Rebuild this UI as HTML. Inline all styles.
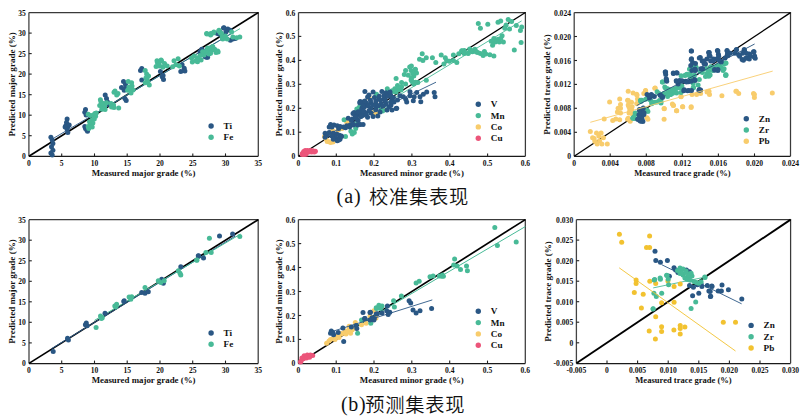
<!DOCTYPE html>
<html><head><meta charset="utf-8"><style>
html,body{margin:0;padding:0;background:#fff;}
body{width:803px;height:420px;overflow:hidden;position:relative;}
svg{position:absolute;left:0;top:0;}
.tk{font-family:'Liberation Serif', 'Times New Roman', serif;font-weight:bold;font-size:7.6px;fill:#111;}
.ax{font-family:'Liberation Serif', 'Times New Roman', serif;font-weight:bold;font-size:8.9px;fill:#111;}
.lg{font-family:'Liberation Serif', 'Times New Roman', serif;font-weight:bold;font-size:9.2px;fill:#111;}
.cap{position:absolute;font-size:20px;line-height:20px;white-space:nowrap;color:#111;}
.cap .l{font-family:'Liberation Serif','Times New Roman',serif;}
.cap .c{font-family:'Liberation Sans','Noto Sans CJK SC',sans-serif;font-weight:350;font-size:19.3px;letter-spacing:0.7px;}
</style></head><body>
<svg width="803" height="420" viewBox="0 0 803 420">
<path d="M28.9 12.6H258.3V156.2" fill="none" stroke="#3a3a3a" stroke-width="1.25"/>
<path d="M28.9 12.6V156.2" fill="none" stroke="#444" stroke-width="1.3"/>
<path d="M28.9 156.4H258.3" fill="none" stroke="#1a1a1a" stroke-width="1.25"/>
<text x="28.9" y="165.9" text-anchor="middle" class="tk">0</text>
<text x="25.8" y="159.2" text-anchor="end" class="tk">0</text>
<path d="M61.7 156.2v-2.8" stroke="#222" stroke-width="1.1"/>
<path d="M28.9 135.7h2.8" stroke="#222" stroke-width="1.1"/>
<text x="61.7" y="165.9" text-anchor="middle" class="tk">5</text>
<text x="25.8" y="138.7" text-anchor="end" class="tk">5</text>
<path d="M94.5 156.2v-2.8" stroke="#222" stroke-width="1.1"/>
<path d="M28.9 115.2h2.8" stroke="#222" stroke-width="1.1"/>
<text x="94.5" y="165.9" text-anchor="middle" class="tk">10</text>
<text x="25.8" y="118.2" text-anchor="end" class="tk">10</text>
<path d="M127.2 156.2v-2.8" stroke="#222" stroke-width="1.1"/>
<path d="M28.9 94.7h2.8" stroke="#222" stroke-width="1.1"/>
<text x="127.2" y="165.9" text-anchor="middle" class="tk">15</text>
<text x="25.8" y="97.7" text-anchor="end" class="tk">15</text>
<path d="M160.0 156.2v-2.8" stroke="#222" stroke-width="1.1"/>
<path d="M28.9 74.1h2.8" stroke="#222" stroke-width="1.1"/>
<text x="160.0" y="165.9" text-anchor="middle" class="tk">20</text>
<text x="25.8" y="77.1" text-anchor="end" class="tk">20</text>
<path d="M192.8 156.2v-2.8" stroke="#222" stroke-width="1.1"/>
<path d="M28.9 53.6h2.8" stroke="#222" stroke-width="1.1"/>
<text x="192.8" y="165.9" text-anchor="middle" class="tk">25</text>
<text x="25.8" y="56.6" text-anchor="end" class="tk">25</text>
<path d="M225.5 156.2v-2.8" stroke="#222" stroke-width="1.1"/>
<path d="M28.9 33.1h2.8" stroke="#222" stroke-width="1.1"/>
<text x="225.5" y="165.9" text-anchor="middle" class="tk">30</text>
<text x="25.8" y="36.1" text-anchor="end" class="tk">30</text>
<text x="258.3" y="165.9" text-anchor="middle" class="tk">35</text>
<text x="25.8" y="15.6" text-anchor="end" class="tk">35</text>
<text x="143.6" y="176.2" text-anchor="middle" class="ax" style="font-size:8.9px">Measured major grade (%)</text>
<text transform="translate(14.5 84.4) rotate(-90)" text-anchor="middle" class="ax" style="font-size:9.05px">Predicted major grade (%)</text>
<path d="M298.5 12.5H525.4V156.2" fill="none" stroke="#3a3a3a" stroke-width="1.25"/>
<path d="M298.5 12.5V156.2" fill="none" stroke="#444" stroke-width="1.3"/>
<path d="M298.5 156.4H525.4" fill="none" stroke="#1a1a1a" stroke-width="1.25"/>
<text x="298.5" y="165.9" text-anchor="middle" class="tk">0</text>
<text x="295.3" y="159.2" text-anchor="end" class="tk">0</text>
<path d="M336.3 156.2v-2.8" stroke="#222" stroke-width="1.1"/>
<path d="M298.5 132.2h2.8" stroke="#222" stroke-width="1.1"/>
<text x="336.3" y="165.9" text-anchor="middle" class="tk">0.1</text>
<text x="295.3" y="135.2" text-anchor="end" class="tk">0.1</text>
<path d="M374.1 156.2v-2.8" stroke="#222" stroke-width="1.1"/>
<path d="M298.5 108.3h2.8" stroke="#222" stroke-width="1.1"/>
<text x="374.1" y="165.9" text-anchor="middle" class="tk">0.2</text>
<text x="295.3" y="111.3" text-anchor="end" class="tk">0.2</text>
<path d="M411.9 156.2v-2.8" stroke="#222" stroke-width="1.1"/>
<path d="M298.5 84.3h2.8" stroke="#222" stroke-width="1.1"/>
<text x="411.9" y="165.9" text-anchor="middle" class="tk">0.3</text>
<text x="295.3" y="87.3" text-anchor="end" class="tk">0.3</text>
<path d="M449.8 156.2v-2.8" stroke="#222" stroke-width="1.1"/>
<path d="M298.5 60.4h2.8" stroke="#222" stroke-width="1.1"/>
<text x="449.8" y="165.9" text-anchor="middle" class="tk">0.4</text>
<text x="295.3" y="63.4" text-anchor="end" class="tk">0.4</text>
<path d="M487.6 156.2v-2.8" stroke="#222" stroke-width="1.1"/>
<path d="M298.5 36.4h2.8" stroke="#222" stroke-width="1.1"/>
<text x="487.6" y="165.9" text-anchor="middle" class="tk">0.5</text>
<text x="295.3" y="39.4" text-anchor="end" class="tk">0.5</text>
<text x="525.4" y="165.9" text-anchor="middle" class="tk">0.6</text>
<text x="295.3" y="15.5" text-anchor="end" class="tk">0.6</text>
<text x="411.9" y="176.2" text-anchor="middle" class="ax" style="font-size:8.9px">Measured minor grade (%)</text>
<text transform="translate(281.6 84.3) rotate(-90)" text-anchor="middle" class="ax" style="font-size:9.05px">Predicted minor grade (%)</text>
<path d="M574.2 12.6H790.5V156.2" fill="none" stroke="#3a3a3a" stroke-width="1.25"/>
<path d="M574.2 12.6V156.2" fill="none" stroke="#444" stroke-width="1.3"/>
<path d="M574.2 156.4H790.5" fill="none" stroke="#1a1a1a" stroke-width="1.25"/>
<text x="574.2" y="165.9" text-anchor="middle" class="tk">0</text>
<text x="571.0" y="159.2" text-anchor="end" class="tk">0</text>
<path d="M610.2 156.2v-2.8" stroke="#222" stroke-width="1.1"/>
<path d="M574.2 132.3h2.8" stroke="#222" stroke-width="1.1"/>
<text x="610.2" y="165.9" text-anchor="middle" class="tk">0.004</text>
<text x="571.0" y="135.3" text-anchor="end" class="tk">0.004</text>
<path d="M646.3 156.2v-2.8" stroke="#222" stroke-width="1.1"/>
<path d="M574.2 108.3h2.8" stroke="#222" stroke-width="1.1"/>
<text x="646.3" y="165.9" text-anchor="middle" class="tk">0.008</text>
<text x="571.0" y="111.3" text-anchor="end" class="tk">0.008</text>
<path d="M682.4 156.2v-2.8" stroke="#222" stroke-width="1.1"/>
<path d="M574.2 84.4h2.8" stroke="#222" stroke-width="1.1"/>
<text x="682.4" y="165.9" text-anchor="middle" class="tk">0.012</text>
<text x="571.0" y="87.4" text-anchor="end" class="tk">0.012</text>
<path d="M718.4 156.2v-2.8" stroke="#222" stroke-width="1.1"/>
<path d="M574.2 60.5h2.8" stroke="#222" stroke-width="1.1"/>
<text x="718.4" y="165.9" text-anchor="middle" class="tk">0.016</text>
<text x="571.0" y="63.5" text-anchor="end" class="tk">0.016</text>
<path d="M754.5 156.2v-2.8" stroke="#222" stroke-width="1.1"/>
<path d="M574.2 36.5h2.8" stroke="#222" stroke-width="1.1"/>
<text x="754.5" y="165.9" text-anchor="middle" class="tk">0.020</text>
<text x="571.0" y="39.5" text-anchor="end" class="tk">0.020</text>
<text x="790.5" y="165.9" text-anchor="middle" class="tk">0.024</text>
<text x="571.0" y="15.6" text-anchor="end" class="tk">0.024</text>
<text x="682.4" y="176.2" text-anchor="middle" class="ax" style="font-size:8.55px">Measured trace grade (%)</text>
<text transform="translate(550.3 84.4) rotate(-90)" text-anchor="middle" class="ax" style="font-size:9.05px">Predicted trace grade (%)</text>
<path d="M29.0 219.7H258.2V363.4" fill="none" stroke="#3a3a3a" stroke-width="1.25"/>
<path d="M29.0 219.7V363.4" fill="none" stroke="#444" stroke-width="1.3"/>
<path d="M29.0 363.6H258.2" fill="none" stroke="#1a1a1a" stroke-width="1.25"/>
<text x="29.0" y="373.1" text-anchor="middle" class="tk">0</text>
<text x="25.8" y="366.4" text-anchor="end" class="tk">0</text>
<path d="M61.7 363.4v-2.8" stroke="#222" stroke-width="1.1"/>
<path d="M29.0 342.9h2.8" stroke="#222" stroke-width="1.1"/>
<text x="61.7" y="373.1" text-anchor="middle" class="tk">5</text>
<text x="25.8" y="345.9" text-anchor="end" class="tk">5</text>
<path d="M94.5 363.4v-2.8" stroke="#222" stroke-width="1.1"/>
<path d="M29.0 322.3h2.8" stroke="#222" stroke-width="1.1"/>
<text x="94.5" y="373.1" text-anchor="middle" class="tk">10</text>
<text x="25.8" y="325.3" text-anchor="end" class="tk">10</text>
<path d="M127.2 363.4v-2.8" stroke="#222" stroke-width="1.1"/>
<path d="M29.0 301.8h2.8" stroke="#222" stroke-width="1.1"/>
<text x="127.2" y="373.1" text-anchor="middle" class="tk">15</text>
<text x="25.8" y="304.8" text-anchor="end" class="tk">15</text>
<path d="M160.0 363.4v-2.8" stroke="#222" stroke-width="1.1"/>
<path d="M29.0 281.3h2.8" stroke="#222" stroke-width="1.1"/>
<text x="160.0" y="373.1" text-anchor="middle" class="tk">20</text>
<text x="25.8" y="284.3" text-anchor="end" class="tk">20</text>
<path d="M192.7 363.4v-2.8" stroke="#222" stroke-width="1.1"/>
<path d="M29.0 260.8h2.8" stroke="#222" stroke-width="1.1"/>
<text x="192.7" y="373.1" text-anchor="middle" class="tk">25</text>
<text x="25.8" y="263.8" text-anchor="end" class="tk">25</text>
<path d="M225.5 363.4v-2.8" stroke="#222" stroke-width="1.1"/>
<path d="M29.0 240.2h2.8" stroke="#222" stroke-width="1.1"/>
<text x="225.5" y="373.1" text-anchor="middle" class="tk">30</text>
<text x="25.8" y="243.2" text-anchor="end" class="tk">30</text>
<text x="258.2" y="373.1" text-anchor="middle" class="tk">35</text>
<text x="25.8" y="222.7" text-anchor="end" class="tk">35</text>
<text x="143.6" y="383.4" text-anchor="middle" class="ax" style="font-size:8.9px">Measured major grade (%)</text>
<text transform="translate(14.5 291.5) rotate(-90)" text-anchor="middle" class="ax" style="font-size:9.05px">Predicted major grade (%)</text>
<path d="M298.4 219.6H525.3V363.4" fill="none" stroke="#3a3a3a" stroke-width="1.25"/>
<path d="M298.4 219.6V363.4" fill="none" stroke="#444" stroke-width="1.3"/>
<path d="M298.4 363.6H525.3" fill="none" stroke="#1a1a1a" stroke-width="1.25"/>
<text x="298.4" y="373.1" text-anchor="middle" class="tk">0</text>
<text x="295.2" y="366.4" text-anchor="end" class="tk">0</text>
<path d="M336.2 363.4v-2.8" stroke="#222" stroke-width="1.1"/>
<path d="M298.4 339.4h2.8" stroke="#222" stroke-width="1.1"/>
<text x="336.2" y="373.1" text-anchor="middle" class="tk">0.1</text>
<text x="295.2" y="342.4" text-anchor="end" class="tk">0.1</text>
<path d="M374.0 363.4v-2.8" stroke="#222" stroke-width="1.1"/>
<path d="M298.4 315.5h2.8" stroke="#222" stroke-width="1.1"/>
<text x="374.0" y="373.1" text-anchor="middle" class="tk">0.2</text>
<text x="295.2" y="318.5" text-anchor="end" class="tk">0.2</text>
<path d="M411.8 363.4v-2.8" stroke="#222" stroke-width="1.1"/>
<path d="M298.4 291.5h2.8" stroke="#222" stroke-width="1.1"/>
<text x="411.8" y="373.1" text-anchor="middle" class="tk">0.3</text>
<text x="295.2" y="294.5" text-anchor="end" class="tk">0.3</text>
<path d="M449.7 363.4v-2.8" stroke="#222" stroke-width="1.1"/>
<path d="M298.4 267.5h2.8" stroke="#222" stroke-width="1.1"/>
<text x="449.7" y="373.1" text-anchor="middle" class="tk">0.4</text>
<text x="295.2" y="270.5" text-anchor="end" class="tk">0.4</text>
<path d="M487.5 363.4v-2.8" stroke="#222" stroke-width="1.1"/>
<path d="M298.4 243.6h2.8" stroke="#222" stroke-width="1.1"/>
<text x="487.5" y="373.1" text-anchor="middle" class="tk">0.5</text>
<text x="295.2" y="246.6" text-anchor="end" class="tk">0.5</text>
<text x="525.3" y="373.1" text-anchor="middle" class="tk">0.6</text>
<text x="295.2" y="222.6" text-anchor="end" class="tk">0.6</text>
<text x="411.8" y="383.4" text-anchor="middle" class="ax" style="font-size:8.9px">Measured minor grade (%)</text>
<text transform="translate(281.6 291.5) rotate(-90)" text-anchor="middle" class="ax" style="font-size:9.05px">Predicted minor grade (%)</text>
<path d="M576.4 219.6H790.6V363.3" fill="none" stroke="#3a3a3a" stroke-width="1.25"/>
<path d="M576.4 219.6V363.3" fill="none" stroke="#444" stroke-width="1.3"/>
<path d="M576.4 363.5H790.6" fill="none" stroke="#1a1a1a" stroke-width="1.25"/>
<text x="576.4" y="373.0" text-anchor="middle" class="tk">-0.005</text>
<text x="573.2" y="366.3" text-anchor="end" class="tk">-0.005</text>
<path d="M607.0 363.3v-2.8" stroke="#222" stroke-width="1.1"/>
<path d="M576.4 342.8h2.8" stroke="#222" stroke-width="1.1"/>
<text x="607.0" y="373.0" text-anchor="middle" class="tk">0</text>
<text x="573.2" y="345.8" text-anchor="end" class="tk">0</text>
<path d="M637.6 363.3v-2.8" stroke="#222" stroke-width="1.1"/>
<path d="M576.4 322.2h2.8" stroke="#222" stroke-width="1.1"/>
<text x="637.6" y="373.0" text-anchor="middle" class="tk">0.005</text>
<text x="573.2" y="325.2" text-anchor="end" class="tk">0.005</text>
<path d="M668.2 363.3v-2.8" stroke="#222" stroke-width="1.1"/>
<path d="M576.4 301.7h2.8" stroke="#222" stroke-width="1.1"/>
<text x="668.2" y="373.0" text-anchor="middle" class="tk">0.010</text>
<text x="573.2" y="304.7" text-anchor="end" class="tk">0.010</text>
<path d="M698.8 363.3v-2.8" stroke="#222" stroke-width="1.1"/>
<path d="M576.4 281.2h2.8" stroke="#222" stroke-width="1.1"/>
<text x="698.8" y="373.0" text-anchor="middle" class="tk">0.015</text>
<text x="573.2" y="284.2" text-anchor="end" class="tk">0.015</text>
<path d="M729.4 363.3v-2.8" stroke="#222" stroke-width="1.1"/>
<path d="M576.4 260.7h2.8" stroke="#222" stroke-width="1.1"/>
<text x="729.4" y="373.0" text-anchor="middle" class="tk">0.020</text>
<text x="573.2" y="263.7" text-anchor="end" class="tk">0.020</text>
<path d="M760.0 363.3v-2.8" stroke="#222" stroke-width="1.1"/>
<path d="M576.4 240.1h2.8" stroke="#222" stroke-width="1.1"/>
<text x="760.0" y="373.0" text-anchor="middle" class="tk">0.025</text>
<text x="573.2" y="243.1" text-anchor="end" class="tk">0.025</text>
<text x="790.6" y="373.0" text-anchor="middle" class="tk">0.030</text>
<text x="573.2" y="222.6" text-anchor="end" class="tk">0.030</text>
<text x="683.5" y="383.3" text-anchor="middle" class="ax" style="font-size:8.55px">Measured trace grade (%)</text>
<text transform="translate(550.5 291.4) rotate(-90)" text-anchor="middle" class="ax" style="font-size:9.05px">Predicted trace grade (%)</text>
<line x1="28.9" y1="156.2" x2="258.3" y2="12.6" stroke="#000" stroke-width="1.6"/>
<line x1="87.9" y1="117.8" x2="240.0" y2="28.6" stroke="#48ba97" stroke-width="0.9"/>
<line x1="50.6" y1="140.0" x2="233.4" y2="32.3" stroke="#2a5784" stroke-width="0.9"/>
<g fill="#2a5784"><circle cx="125.5" cy="84.5" r="2.5"/><circle cx="126.0" cy="88.0" r="2.5"/><circle cx="50.9" cy="137.3" r="2.5"/><circle cx="52.2" cy="140.0" r="2.5"/><circle cx="52.9" cy="143.4" r="2.5"/><circle cx="51.5" cy="146.8" r="2.5"/><circle cx="52.9" cy="150.2" r="2.5"/><circle cx="50.9" cy="152.9" r="2.5"/><circle cx="52.2" cy="155.0" r="2.5"/><circle cx="67.1" cy="119.0" r="2.5"/><circle cx="66.5" cy="122.4" r="2.5"/><circle cx="65.8" cy="125.8" r="2.5"/><circle cx="67.8" cy="126.5" r="2.5"/><circle cx="69.2" cy="125.1" r="2.5"/><circle cx="67.1" cy="129.2" r="2.5"/><circle cx="67.8" cy="132.6" r="2.5"/><circle cx="65.1" cy="127.1" r="2.5"/><circle cx="85.5" cy="109.5" r="2.5"/><circle cx="84.8" cy="112.2" r="2.5"/><circle cx="86.1" cy="114.9" r="2.5"/><circle cx="84.8" cy="126.5" r="2.5"/><circle cx="86.8" cy="129.9" r="2.5"/><circle cx="87.5" cy="131.2" r="2.5"/><circle cx="85.5" cy="128.5" r="2.5"/><circle cx="107.2" cy="102.0" r="2.5"/><circle cx="108.5" cy="104.1" r="2.5"/><circle cx="105.2" cy="95.0" r="2.5"/><circle cx="106.5" cy="98.4" r="2.5"/><circle cx="107.2" cy="101.8" r="2.5"/><circle cx="123.5" cy="81.5" r="2.5"/><circle cx="121.5" cy="87.6" r="2.5"/><circle cx="124.2" cy="90.3" r="2.5"/><circle cx="124.9" cy="98.4" r="2.5"/><circle cx="126.2" cy="100.5" r="2.5"/><circle cx="141.8" cy="68.6" r="2.5"/><circle cx="140.5" cy="70.6" r="2.5"/><circle cx="141.8" cy="80.1" r="2.5"/><circle cx="162.2" cy="76.7" r="2.5"/><circle cx="163.5" cy="79.4" r="2.5"/><circle cx="160.4" cy="71.6" r="2.5"/><circle cx="163.1" cy="75.6" r="2.5"/><circle cx="182.1" cy="64.8" r="2.5"/><circle cx="184.2" cy="68.2" r="2.5"/><circle cx="180.8" cy="71.6" r="2.5"/><circle cx="184.9" cy="70.9" r="2.5"/><circle cx="201.1" cy="51.2" r="2.5"/><circle cx="203.8" cy="54.6" r="2.5"/><circle cx="206.6" cy="57.3" r="2.5"/><circle cx="201.8" cy="49.2" r="2.5"/><circle cx="217.4" cy="33.6" r="2.5"/><circle cx="220.1" cy="32.2" r="2.5"/><circle cx="223.5" cy="28.1" r="2.5"/><circle cx="224.0" cy="27.7" r="2.5"/><circle cx="227.8" cy="28.9" r="2.5"/><circle cx="230.4" cy="30.2" r="2.5"/><circle cx="225.9" cy="32.1" r="2.5"/><circle cx="230.4" cy="40.3" r="2.5"/><circle cx="232.9" cy="39.0" r="2.5"/><circle cx="235.4" cy="38.4" r="2.5"/><circle cx="219.0" cy="34.0" r="2.5"/><circle cx="200.0" cy="51.7" r="2.5"/><circle cx="201.3" cy="54.2" r="2.5"/><circle cx="205.1" cy="56.7" r="2.5"/><circle cx="207.6" cy="57.3" r="2.5"/></g>
<g fill="#48ba97"><circle cx="132.0" cy="86.0" r="2.5"/><circle cx="133.0" cy="90.0" r="2.5"/><circle cx="131.0" cy="93.0" r="2.5"/><circle cx="147.0" cy="79.0" r="2.5"/><circle cx="148.5" cy="76.0" r="2.5"/><circle cx="205.0" cy="52.0" r="2.5"/><circle cx="208.0" cy="50.5" r="2.5"/><circle cx="212.0" cy="50.0" r="2.5"/><circle cx="216.0" cy="52.5" r="2.5"/><circle cx="204.0" cy="55.0" r="2.5"/><circle cx="209.0" cy="54.0" r="2.5"/><circle cx="88.2" cy="114.2" r="2.5"/><circle cx="90.9" cy="115.6" r="2.5"/><circle cx="93.6" cy="114.9" r="2.5"/><circle cx="95.6" cy="116.3" r="2.5"/><circle cx="94.3" cy="119.0" r="2.5"/><circle cx="91.6" cy="120.4" r="2.5"/><circle cx="89.5" cy="121.7" r="2.5"/><circle cx="92.9" cy="123.1" r="2.5"/><circle cx="90.2" cy="125.1" r="2.5"/><circle cx="88.2" cy="126.5" r="2.5"/><circle cx="92.2" cy="127.1" r="2.5"/><circle cx="88.8" cy="128.5" r="2.5"/><circle cx="94.9" cy="113.6" r="2.5"/><circle cx="96.3" cy="112.9" r="2.5"/><circle cx="99.7" cy="105.4" r="2.5"/><circle cx="102.4" cy="107.5" r="2.5"/><circle cx="105.1" cy="109.5" r="2.5"/><circle cx="103.8" cy="104.1" r="2.5"/><circle cx="101.0" cy="102.0" r="2.5"/><circle cx="106.5" cy="102.7" r="2.5"/><circle cx="100.4" cy="99.8" r="2.5"/><circle cx="102.5" cy="103.2" r="2.5"/><circle cx="104.5" cy="106.6" r="2.5"/><circle cx="101.8" cy="109.3" r="2.5"/><circle cx="114.0" cy="92.3" r="2.5"/><circle cx="116.7" cy="95.0" r="2.5"/><circle cx="112.6" cy="105.2" r="2.5"/><circle cx="118.7" cy="107.9" r="2.5"/><circle cx="111.0" cy="103.5" r="2.5"/><circle cx="113.5" cy="105.0" r="2.5"/><circle cx="111.5" cy="107.0" r="2.5"/><circle cx="114.0" cy="107.5" r="2.5"/><circle cx="115.0" cy="91.0" r="2.5"/><circle cx="118.0" cy="93.5" r="2.5"/><circle cx="128.2" cy="81.5" r="2.5"/><circle cx="131.6" cy="82.8" r="2.5"/><circle cx="128.9" cy="86.9" r="2.5"/><circle cx="127.6" cy="90.3" r="2.5"/><circle cx="130.3" cy="88.9" r="2.5"/><circle cx="145.2" cy="70.6" r="2.5"/><circle cx="146.6" cy="74.0" r="2.5"/><circle cx="145.9" cy="78.1" r="2.5"/><circle cx="147.9" cy="82.1" r="2.5"/><circle cx="149.3" cy="84.9" r="2.5"/><circle cx="145.2" cy="82.8" r="2.5"/><circle cx="157.4" cy="62.5" r="2.5"/><circle cx="161.5" cy="61.1" r="2.5"/><circle cx="159.4" cy="65.9" r="2.5"/><circle cx="162.8" cy="67.2" r="2.5"/><circle cx="156.1" cy="66.5" r="2.5"/><circle cx="157.0" cy="60.7" r="2.5"/><circle cx="161.1" cy="60.0" r="2.5"/><circle cx="159.1" cy="64.8" r="2.5"/><circle cx="164.5" cy="63.4" r="2.5"/><circle cx="167.2" cy="66.1" r="2.5"/><circle cx="174.0" cy="60.7" r="2.5"/><circle cx="178.1" cy="58.7" r="2.5"/><circle cx="176.0" cy="64.8" r="2.5"/><circle cx="179.4" cy="66.1" r="2.5"/><circle cx="172.6" cy="66.8" r="2.5"/><circle cx="191.6" cy="58.0" r="2.5"/><circle cx="194.3" cy="56.0" r="2.5"/><circle cx="195.7" cy="60.7" r="2.5"/><circle cx="192.3" cy="62.1" r="2.5"/><circle cx="198.4" cy="59.3" r="2.5"/><circle cx="201.1" cy="60.0" r="2.5"/><circle cx="205.9" cy="51.2" r="2.5"/><circle cx="209.3" cy="48.5" r="2.5"/><circle cx="212.7" cy="46.5" r="2.5"/><circle cx="214.7" cy="49.2" r="2.5"/><circle cx="218.1" cy="51.9" r="2.5"/><circle cx="210.6" cy="53.2" r="2.5"/><circle cx="206.6" cy="33.6" r="2.5"/><circle cx="210.6" cy="34.9" r="2.5"/><circle cx="213.3" cy="32.9" r="2.5"/><circle cx="218.8" cy="30.9" r="2.5"/><circle cx="221.5" cy="33.6" r="2.5"/><circle cx="222.8" cy="39.0" r="2.5"/><circle cx="207.0" cy="34.0" r="2.5"/><circle cx="210.8" cy="33.4" r="2.5"/><circle cx="213.9" cy="32.1" r="2.5"/><circle cx="219.0" cy="30.2" r="2.5"/><circle cx="220.3" cy="32.7" r="2.5"/><circle cx="222.1" cy="37.1" r="2.5"/><circle cx="225.3" cy="35.9" r="2.5"/><circle cx="227.2" cy="39.0" r="2.5"/><circle cx="231.6" cy="32.1" r="2.5"/><circle cx="232.9" cy="37.1" r="2.5"/><circle cx="236.7" cy="37.8" r="2.5"/><circle cx="239.8" cy="37.1" r="2.5"/><circle cx="197.5" cy="58.0" r="2.5"/><circle cx="202.6" cy="51.7" r="2.5"/><circle cx="207.6" cy="47.9" r="2.5"/><circle cx="211.4" cy="47.2" r="2.5"/><circle cx="213.9" cy="49.1" r="2.5"/><circle cx="217.7" cy="51.0" r="2.5"/><circle cx="200.0" cy="55.5" r="2.5"/><circle cx="197.5" cy="61.8" r="2.5"/></g>
<line x1="298.5" y1="156.2" x2="525.4" y2="12.5" stroke="#000" stroke-width="1.3"/>
<line x1="336.3" y1="133.4" x2="521.6" y2="20.9" stroke="#48ba97" stroke-width="0.9"/>
<g fill="#ec557a"><circle cx="302.4" cy="153.6" r="2.5"/><circle cx="303.7" cy="151.5" r="2.5"/><circle cx="305.2" cy="150.5" r="2.5"/><circle cx="307.5" cy="150.5" r="2.5"/><circle cx="310.2" cy="150.5" r="2.5"/><circle cx="312.9" cy="150.7" r="2.5"/><circle cx="315.4" cy="151.3" r="2.5"/><circle cx="303.4" cy="152.9" r="2.5"/><circle cx="306.1" cy="152.6" r="2.5"/><circle cx="308.9" cy="152.0" r="2.5"/><circle cx="311.6" cy="152.0" r="2.5"/><circle cx="314.3" cy="152.0" r="2.5"/><circle cx="302.2" cy="154.5" r="2.5"/><circle cx="304.0" cy="154.5" r="2.5"/><circle cx="306.0" cy="154.2" r="2.5"/></g>
<g fill="#f8cc6c"><circle cx="329.2" cy="141.7" r="2.5"/><circle cx="330.6" cy="142.5" r="2.5"/><circle cx="327.2" cy="141.4" r="2.5"/><circle cx="333.0" cy="142.0" r="2.5"/><circle cx="332.6" cy="130.5" r="2.5"/><circle cx="346.8" cy="122.4" r="2.5"/><circle cx="349.6" cy="121.7" r="2.5"/><circle cx="324.5" cy="136.6" r="2.5"/><circle cx="326.0" cy="139.0" r="2.5"/><circle cx="371.7" cy="112.5" r="2.5"/><circle cx="375.8" cy="113.2" r="2.5"/><circle cx="382.6" cy="108.4" r="2.5"/><circle cx="369.0" cy="97.6" r="2.5"/><circle cx="338.0" cy="130.0" r="2.5"/><circle cx="342.0" cy="128.5" r="2.5"/></g>
<g fill="#48ba97"><circle cx="396.0" cy="92.0" r="2.5"/><circle cx="401.0" cy="90.0" r="2.5"/><circle cx="393.0" cy="91.5" r="2.5"/><circle cx="376.0" cy="96.0" r="2.5"/><circle cx="344.1" cy="119.7" r="2.5"/><circle cx="345.5" cy="136.6" r="2.5"/><circle cx="350.9" cy="131.2" r="2.5"/><circle cx="354.3" cy="132.6" r="2.5"/><circle cx="352.3" cy="133.9" r="2.5"/><circle cx="356.3" cy="125.8" r="2.5"/><circle cx="357.7" cy="123.1" r="2.5"/><circle cx="355.7" cy="128.5" r="2.5"/><circle cx="359.0" cy="108.1" r="2.5"/><circle cx="357.7" cy="109.5" r="2.5"/><circle cx="409.7" cy="67.0" r="2.5"/><circle cx="405.6" cy="70.4" r="2.5"/><circle cx="411.1" cy="70.4" r="2.5"/><circle cx="415.1" cy="69.7" r="2.5"/><circle cx="404.3" cy="74.5" r="2.5"/><circle cx="408.3" cy="75.2" r="2.5"/><circle cx="413.8" cy="75.9" r="2.5"/><circle cx="416.5" cy="73.1" r="2.5"/><circle cx="396.1" cy="78.6" r="2.5"/><circle cx="401.6" cy="82.6" r="2.5"/><circle cx="405.6" cy="84.0" r="2.5"/><circle cx="411.1" cy="79.9" r="2.5"/><circle cx="413.8" cy="84.0" r="2.5"/><circle cx="417.8" cy="82.6" r="2.5"/><circle cx="397.5" cy="85.4" r="2.5"/><circle cx="394.8" cy="88.7" r="2.5"/><circle cx="398.8" cy="89.4" r="2.5"/><circle cx="387.3" cy="88.7" r="2.5"/><circle cx="392.1" cy="90.8" r="2.5"/><circle cx="401.6" cy="86.7" r="2.5"/><circle cx="376.5" cy="94.2" r="2.5"/><circle cx="382.6" cy="111.1" r="2.5"/><circle cx="386.6" cy="109.8" r="2.5"/><circle cx="381.2" cy="108.4" r="2.5"/><circle cx="359.5" cy="107.1" r="2.5"/><circle cx="356.8" cy="109.1" r="2.5"/><circle cx="422.2" cy="53.7" r="2.5"/><circle cx="426.3" cy="57.8" r="2.5"/><circle cx="419.5" cy="59.2" r="2.5"/><circle cx="422.9" cy="60.5" r="2.5"/><circle cx="432.4" cy="57.8" r="2.5"/><circle cx="435.8" cy="62.6" r="2.5"/><circle cx="441.2" cy="55.1" r="2.5"/><circle cx="445.3" cy="57.8" r="2.5"/><circle cx="446.6" cy="60.5" r="2.5"/><circle cx="443.9" cy="63.9" r="2.5"/><circle cx="449.3" cy="61.2" r="2.5"/><circle cx="453.4" cy="55.1" r="2.5"/><circle cx="453.4" cy="60.5" r="2.5"/><circle cx="456.8" cy="62.6" r="2.5"/><circle cx="458.8" cy="53.7" r="2.5"/><circle cx="461.6" cy="51.0" r="2.5"/><circle cx="464.3" cy="50.4" r="2.5"/><circle cx="468.3" cy="53.1" r="2.5"/><circle cx="472.4" cy="51.7" r="2.5"/><circle cx="475.1" cy="50.4" r="2.5"/><circle cx="477.8" cy="52.4" r="2.5"/><circle cx="469.7" cy="49.0" r="2.5"/><circle cx="411.4" cy="66.0" r="2.5"/><circle cx="415.4" cy="69.3" r="2.5"/><circle cx="412.7" cy="73.4" r="2.5"/><circle cx="411.4" cy="78.2" r="2.5"/><circle cx="415.4" cy="82.2" r="2.5"/><circle cx="426.3" cy="80.2" r="2.5"/><circle cx="412.0" cy="81.6" r="2.5"/><circle cx="478.3" cy="23.6" r="2.5"/><circle cx="480.4" cy="28.3" r="2.5"/><circle cx="487.8" cy="24.2" r="2.5"/><circle cx="498.0" cy="22.2" r="2.5"/><circle cx="500.7" cy="20.9" r="2.5"/><circle cx="508.2" cy="19.5" r="2.5"/><circle cx="511.6" cy="21.5" r="2.5"/><circle cx="506.1" cy="24.9" r="2.5"/><circle cx="504.8" cy="28.3" r="2.5"/><circle cx="509.5" cy="29.0" r="2.5"/><circle cx="516.3" cy="25.6" r="2.5"/><circle cx="521.7" cy="27.0" r="2.5"/><circle cx="520.4" cy="30.4" r="2.5"/><circle cx="521.1" cy="42.6" r="2.5"/><circle cx="514.3" cy="50.0" r="2.5"/><circle cx="502.1" cy="35.8" r="2.5"/><circle cx="500.7" cy="38.5" r="2.5"/><circle cx="498.0" cy="39.2" r="2.5"/><circle cx="493.9" cy="38.5" r="2.5"/><circle cx="491.2" cy="41.2" r="2.5"/><circle cx="495.3" cy="41.9" r="2.5"/><circle cx="492.6" cy="45.3" r="2.5"/><circle cx="503.4" cy="41.9" r="2.5"/><circle cx="499.3" cy="41.9" r="2.5"/><circle cx="462.0" cy="50.7" r="2.5"/><circle cx="464.1" cy="53.4" r="2.5"/><circle cx="468.1" cy="53.4" r="2.5"/><circle cx="472.2" cy="50.7" r="2.5"/><circle cx="474.9" cy="49.3" r="2.5"/><circle cx="476.3" cy="52.1" r="2.5"/><circle cx="480.4" cy="53.4" r="2.5"/><circle cx="484.4" cy="51.4" r="2.5"/><circle cx="485.8" cy="54.1" r="2.5"/><circle cx="489.9" cy="54.8" r="2.5"/><circle cx="493.9" cy="56.1" r="2.5"/><circle cx="483.1" cy="55.5" r="2.5"/></g>
<g fill="#2a5784"><circle cx="366.0" cy="103.0" r="2.5"/><circle cx="371.0" cy="103.0" r="2.5"/><circle cx="376.0" cy="104.0" r="2.5"/><circle cx="381.0" cy="104.0" r="2.5"/><circle cx="386.0" cy="104.0" r="2.5"/><circle cx="391.0" cy="105.0" r="2.5"/><circle cx="384.0" cy="99.0" r="2.5"/><circle cx="379.0" cy="99.0" r="2.5"/><circle cx="394.0" cy="102.0" r="2.5"/><circle cx="371.0" cy="108.0" r="2.5"/><circle cx="376.0" cy="107.0" r="2.5"/><circle cx="383.0" cy="106.0" r="2.5"/><circle cx="387.0" cy="110.0" r="2.5"/><circle cx="392.0" cy="110.0" r="2.5"/><circle cx="362.0" cy="108.0" r="2.5"/><circle cx="357.0" cy="115.0" r="2.5"/><circle cx="366.0" cy="114.0" r="2.5"/><circle cx="371.0" cy="113.0" r="2.5"/><circle cx="380.0" cy="112.0" r="2.5"/><circle cx="385.0" cy="99.5" r="2.5"/><circle cx="369.0" cy="95.0" r="2.5"/><circle cx="385.0" cy="97.0" r="2.5"/><circle cx="392.0" cy="99.0" r="2.5"/><circle cx="330.6" cy="124.4" r="2.5"/><circle cx="334.0" cy="125.1" r="2.5"/><circle cx="337.3" cy="125.8" r="2.5"/><circle cx="340.1" cy="126.5" r="2.5"/><circle cx="343.5" cy="127.1" r="2.5"/><circle cx="346.8" cy="125.8" r="2.5"/><circle cx="350.2" cy="125.1" r="2.5"/><circle cx="353.0" cy="125.1" r="2.5"/><circle cx="329.2" cy="127.1" r="2.5"/><circle cx="325.1" cy="133.2" r="2.5"/><circle cx="327.2" cy="135.3" r="2.5"/><circle cx="325.1" cy="137.3" r="2.5"/><circle cx="329.2" cy="132.6" r="2.5"/><circle cx="333.3" cy="133.2" r="2.5"/><circle cx="336.7" cy="133.9" r="2.5"/><circle cx="339.4" cy="135.3" r="2.5"/><circle cx="341.4" cy="136.0" r="2.5"/><circle cx="337.3" cy="138.7" r="2.5"/><circle cx="338.7" cy="140.0" r="2.5"/><circle cx="334.6" cy="136.6" r="2.5"/><circle cx="331.9" cy="136.0" r="2.5"/><circle cx="348.2" cy="118.3" r="2.5"/><circle cx="353.0" cy="113.6" r="2.5"/><circle cx="355.0" cy="114.9" r="2.5"/><circle cx="357.7" cy="113.6" r="2.5"/><circle cx="360.4" cy="112.9" r="2.5"/><circle cx="363.1" cy="114.9" r="2.5"/><circle cx="365.8" cy="112.9" r="2.5"/><circle cx="363.1" cy="124.4" r="2.5"/><circle cx="361.8" cy="109.5" r="2.5"/><circle cx="364.5" cy="106.8" r="2.5"/><circle cx="359.7" cy="102.7" r="2.5"/><circle cx="363.1" cy="102.0" r="2.5"/><circle cx="366.5" cy="103.4" r="2.5"/><circle cx="356.3" cy="118.3" r="2.5"/><circle cx="352.3" cy="119.0" r="2.5"/><circle cx="333.3" cy="139.3" r="2.5"/><circle cx="337.3" cy="140.7" r="2.5"/><circle cx="340.0" cy="139.3" r="2.5"/><circle cx="341.4" cy="136.6" r="2.5"/><circle cx="331.9" cy="127.1" r="2.5"/><circle cx="338.7" cy="128.5" r="2.5"/><circle cx="345.5" cy="127.8" r="2.5"/><circle cx="349.6" cy="127.1" r="2.5"/><circle cx="353.6" cy="124.4" r="2.5"/><circle cx="357.7" cy="125.1" r="2.5"/><circle cx="360.4" cy="124.4" r="2.5"/><circle cx="364.9" cy="91.5" r="2.5"/><circle cx="373.1" cy="92.1" r="2.5"/><circle cx="381.9" cy="91.5" r="2.5"/><circle cx="386.0" cy="92.8" r="2.5"/><circle cx="390.0" cy="92.1" r="2.5"/><circle cx="367.6" cy="96.9" r="2.5"/><circle cx="374.4" cy="97.6" r="2.5"/><circle cx="379.2" cy="96.2" r="2.5"/><circle cx="383.9" cy="95.5" r="2.5"/><circle cx="388.0" cy="96.2" r="2.5"/><circle cx="390.7" cy="95.5" r="2.5"/><circle cx="393.4" cy="97.6" r="2.5"/><circle cx="360.2" cy="101.6" r="2.5"/><circle cx="364.9" cy="101.0" r="2.5"/><circle cx="370.4" cy="100.3" r="2.5"/><circle cx="375.8" cy="101.0" r="2.5"/><circle cx="380.5" cy="100.3" r="2.5"/><circle cx="385.3" cy="101.6" r="2.5"/><circle cx="390.7" cy="102.3" r="2.5"/><circle cx="362.9" cy="105.7" r="2.5"/><circle cx="368.3" cy="105.7" r="2.5"/><circle cx="373.1" cy="105.0" r="2.5"/><circle cx="378.5" cy="105.7" r="2.5"/><circle cx="389.3" cy="107.1" r="2.5"/><circle cx="396.1" cy="108.4" r="2.5"/><circle cx="354.1" cy="112.5" r="2.5"/><circle cx="358.1" cy="111.8" r="2.5"/><circle cx="363.6" cy="111.1" r="2.5"/><circle cx="369.0" cy="110.5" r="2.5"/><circle cx="375.8" cy="109.8" r="2.5"/><circle cx="355.4" cy="117.2" r="2.5"/><circle cx="360.9" cy="116.6" r="2.5"/><circle cx="367.6" cy="117.2" r="2.5"/><circle cx="373.1" cy="116.6" r="2.5"/><circle cx="377.8" cy="115.9" r="2.5"/><circle cx="351.4" cy="120.6" r="2.5"/><circle cx="358.1" cy="120.6" r="2.5"/><circle cx="410.0" cy="91.7" r="2.5"/><circle cx="410.0" cy="95.8" r="2.5"/><circle cx="405.8" cy="99.2" r="2.5"/><circle cx="406.7" cy="102.1" r="2.5"/><circle cx="414.2" cy="96.7" r="2.5"/><circle cx="413.3" cy="100.8" r="2.5"/><circle cx="416.7" cy="92.5" r="2.5"/><circle cx="420.0" cy="96.7" r="2.5"/><circle cx="420.8" cy="101.7" r="2.5"/><circle cx="423.3" cy="94.2" r="2.5"/><circle cx="426.7" cy="92.1" r="2.5"/><circle cx="434.2" cy="92.5" r="2.5"/><circle cx="435.0" cy="96.7" r="2.5"/><circle cx="400.0" cy="95.8" r="2.5"/><circle cx="397.5" cy="100.0" r="2.5"/><circle cx="396.7" cy="108.3" r="2.5"/><circle cx="403.3" cy="96.7" r="2.5"/></g>
<line x1="332.5" y1="132.2" x2="436.0" y2="82.2" stroke="#2a5784" stroke-width="0.9"/>
<line x1="574.2" y1="156.2" x2="790.5" y2="12.6" stroke="#000" stroke-width="1.3"/>
<g fill="#f8cc6c"><circle cx="645.7" cy="90.7" r="2.5"/><circle cx="643.8" cy="93.6" r="2.5"/><circle cx="655.2" cy="87.9" r="2.5"/><circle cx="681.0" cy="96.4" r="2.5"/><circle cx="672.4" cy="104.0" r="2.5"/><circle cx="590.3" cy="131.5" r="2.5"/><circle cx="592.6" cy="137.7" r="2.5"/><circle cx="596.5" cy="133.0" r="2.5"/><circle cx="598.8" cy="136.1" r="2.5"/><circle cx="601.1" cy="133.0" r="2.5"/><circle cx="603.4" cy="137.7" r="2.5"/><circle cx="594.9" cy="141.5" r="2.5"/><circle cx="599.6" cy="140.8" r="2.5"/><circle cx="601.9" cy="143.9" r="2.5"/><circle cx="607.3" cy="143.9" r="2.5"/><circle cx="597.2" cy="143.9" r="2.5"/><circle cx="594.1" cy="138.4" r="2.5"/><circle cx="609.6" cy="102.0" r="2.5"/><circle cx="604.2" cy="119.1" r="2.5"/><circle cx="612.7" cy="120.6" r="2.5"/><circle cx="615.8" cy="119.1" r="2.5"/><circle cx="619.7" cy="119.8" r="2.5"/><circle cx="617.4" cy="112.1" r="2.5"/><circle cx="619.7" cy="98.9" r="2.5"/><circle cx="620.5" cy="104.4" r="2.5"/><circle cx="620.5" cy="108.2" r="2.5"/><circle cx="618.1" cy="108.2" r="2.5"/><circle cx="620.5" cy="112.9" r="2.5"/><circle cx="628.2" cy="91.2" r="2.5"/><circle cx="628.2" cy="100.5" r="2.5"/><circle cx="628.2" cy="105.1" r="2.5"/><circle cx="629.8" cy="109.8" r="2.5"/><circle cx="632.1" cy="106.7" r="2.5"/><circle cx="629.0" cy="112.9" r="2.5"/><circle cx="632.1" cy="113.7" r="2.5"/><circle cx="628.2" cy="118.3" r="2.5"/><circle cx="636.7" cy="94.3" r="2.5"/><circle cx="637.5" cy="98.9" r="2.5"/><circle cx="636.7" cy="103.6" r="2.5"/><circle cx="633.1" cy="92.9" r="2.5"/><circle cx="637.0" cy="95.2" r="2.5"/><circle cx="645.5" cy="90.6" r="2.5"/><circle cx="654.8" cy="88.2" r="2.5"/><circle cx="664.1" cy="108.4" r="2.5"/><circle cx="673.4" cy="105.3" r="2.5"/><circle cx="676.5" cy="110.7" r="2.5"/><circle cx="682.7" cy="106.8" r="2.5"/><circle cx="691.2" cy="106.8" r="2.5"/><circle cx="681.1" cy="96.7" r="2.5"/><circle cx="692.0" cy="94.4" r="2.5"/><circle cx="696.6" cy="94.4" r="2.5"/><circle cx="664.1" cy="119.2" r="2.5"/><circle cx="631.5" cy="102.2" r="2.5"/><circle cx="631.5" cy="109.9" r="2.5"/><circle cx="647.0" cy="117.7" r="2.5"/><circle cx="707.0" cy="92.0" r="2.5"/><circle cx="736.5" cy="91.2" r="2.5"/><circle cx="753.5" cy="93.5" r="2.5"/><circle cx="709.0" cy="91.3" r="2.5"/><circle cx="709.5" cy="94.6" r="2.5"/><circle cx="721.9" cy="95.7" r="2.5"/><circle cx="735.9" cy="91.3" r="2.5"/><circle cx="738.7" cy="93.5" r="2.5"/><circle cx="754.4" cy="94.6" r="2.5"/><circle cx="754.4" cy="97.4" r="2.5"/><circle cx="772.3" cy="92.9" r="2.5"/><circle cx="700.6" cy="93.5" r="2.5"/><circle cx="627.6" cy="100.2" r="2.5"/><circle cx="628.9" cy="106.8" r="2.5"/><circle cx="630.2" cy="110.7" r="2.5"/><circle cx="627.6" cy="119.2" r="2.5"/><circle cx="630.2" cy="121.2" r="2.5"/><circle cx="647.9" cy="119.2" r="2.5"/><circle cx="664.3" cy="108.7" r="2.5"/><circle cx="673.4" cy="105.5" r="2.5"/><circle cx="676.7" cy="110.7" r="2.5"/><circle cx="682.6" cy="106.8" r="2.5"/><circle cx="691.1" cy="107.4" r="2.5"/></g>
<g fill="#48ba97"><circle cx="690.7" cy="68.6" r="2.5"/><circle cx="686.9" cy="74.3" r="2.5"/><circle cx="693.6" cy="66.7" r="2.5"/><circle cx="700.3" cy="71.5" r="2.5"/><circle cx="706.0" cy="68.6" r="2.5"/><circle cx="706.9" cy="73.4" r="2.5"/><circle cx="710.7" cy="66.7" r="2.5"/><circle cx="712.6" cy="70.5" r="2.5"/><circle cx="717.4" cy="65.7" r="2.5"/><circle cx="721.2" cy="67.6" r="2.5"/><circle cx="724.1" cy="63.8" r="2.5"/><circle cx="726.0" cy="62.9" r="2.5"/><circle cx="723.1" cy="70.5" r="2.5"/><circle cx="726.0" cy="74.8" r="2.5"/><circle cx="708.8" cy="76.2" r="2.5"/><circle cx="694.5" cy="75.3" r="2.5"/><circle cx="690.7" cy="76.2" r="2.5"/><circle cx="662.4" cy="82.1" r="2.5"/><circle cx="664.8" cy="86.9" r="2.5"/><circle cx="667.6" cy="88.8" r="2.5"/><circle cx="670.5" cy="90.7" r="2.5"/><circle cx="672.4" cy="93.6" r="2.5"/><circle cx="674.3" cy="88.8" r="2.5"/><circle cx="676.2" cy="92.6" r="2.5"/><circle cx="680.0" cy="87.9" r="2.5"/><circle cx="681.9" cy="86.0" r="2.5"/><circle cx="684.8" cy="75.5" r="2.5"/><circle cx="687.6" cy="74.5" r="2.5"/><circle cx="689.5" cy="69.3" r="2.5"/><circle cx="657.1" cy="91.7" r="2.5"/><circle cx="659.0" cy="93.6" r="2.5"/><circle cx="663.8" cy="93.6" r="2.5"/><circle cx="667.6" cy="96.4" r="2.5"/><circle cx="670.5" cy="94.5" r="2.5"/><circle cx="641.9" cy="100.2" r="2.5"/><circle cx="645.7" cy="99.3" r="2.5"/><circle cx="651.4" cy="101.2" r="2.5"/><circle cx="657.1" cy="102.1" r="2.5"/><circle cx="661.0" cy="101.2" r="2.5"/><circle cx="681.0" cy="92.6" r="2.5"/><circle cx="640.6" cy="100.5" r="2.5"/><circle cx="632.9" cy="118.3" r="2.5"/><circle cx="635.2" cy="112.9" r="2.5"/><circle cx="662.5" cy="82.0" r="2.5"/><circle cx="665.6" cy="88.2" r="2.5"/><circle cx="670.3" cy="89.8" r="2.5"/><circle cx="673.4" cy="91.3" r="2.5"/><circle cx="676.5" cy="88.2" r="2.5"/><circle cx="679.6" cy="85.1" r="2.5"/><circle cx="670.3" cy="94.4" r="2.5"/><circle cx="667.2" cy="92.9" r="2.5"/><circle cx="676.5" cy="92.9" r="2.5"/><circle cx="681.1" cy="75.8" r="2.5"/><circle cx="685.8" cy="75.1" r="2.5"/><circle cx="690.4" cy="74.3" r="2.5"/><circle cx="691.9" cy="68.1" r="2.5"/><circle cx="693.5" cy="87.5" r="2.5"/><circle cx="698.1" cy="85.1" r="2.5"/><circle cx="650.1" cy="99.8" r="2.5"/><circle cx="654.8" cy="102.2" r="2.5"/><circle cx="659.4" cy="100.6" r="2.5"/><circle cx="661.0" cy="102.9" r="2.5"/><circle cx="651.7" cy="103.7" r="2.5"/><circle cx="640.8" cy="101.4" r="2.5"/><circle cx="647.0" cy="109.9" r="2.5"/><circle cx="634.6" cy="118.4" r="2.5"/><circle cx="690.0" cy="68.7" r="2.5"/><circle cx="696.2" cy="67.2" r="2.5"/><circle cx="702.4" cy="72.6" r="2.5"/><circle cx="708.6" cy="71.0" r="2.5"/><circle cx="713.2" cy="67.2" r="2.5"/><circle cx="719.4" cy="65.6" r="2.5"/><circle cx="725.6" cy="63.3" r="2.5"/><circle cx="724.1" cy="68.7" r="2.5"/><circle cx="725.6" cy="74.9" r="2.5"/><circle cx="705.5" cy="76.5" r="2.5"/><circle cx="710.1" cy="74.9" r="2.5"/><circle cx="699.3" cy="79.6" r="2.5"/><circle cx="693.1" cy="83.4" r="2.5"/><circle cx="690.0" cy="76.5" r="2.5"/><circle cx="693.1" cy="88.1" r="2.5"/><circle cx="725.8" cy="75.6" r="2.5"/><circle cx="632.9" cy="117.9" r="2.5"/><circle cx="634.2" cy="116.6" r="2.5"/><circle cx="647.9" cy="111.4" r="2.5"/><circle cx="640.7" cy="100.2" r="2.5"/></g>
<g fill="#2a5784"><circle cx="691.2" cy="51.0" r="2.5"/><circle cx="691.2" cy="59.5" r="2.5"/><circle cx="692.6" cy="62.4" r="2.5"/><circle cx="695.5" cy="63.4" r="2.5"/><circle cx="700.3" cy="57.6" r="2.5"/><circle cx="702.2" cy="61.0" r="2.5"/><circle cx="704.1" cy="63.8" r="2.5"/><circle cx="706.9" cy="59.1" r="2.5"/><circle cx="709.3" cy="52.4" r="2.5"/><circle cx="709.3" cy="55.3" r="2.5"/><circle cx="710.7" cy="61.0" r="2.5"/><circle cx="713.6" cy="59.1" r="2.5"/><circle cx="717.4" cy="50.5" r="2.5"/><circle cx="718.4" cy="54.3" r="2.5"/><circle cx="716.5" cy="59.1" r="2.5"/><circle cx="719.3" cy="60.5" r="2.5"/><circle cx="721.2" cy="61.9" r="2.5"/><circle cx="725.0" cy="58.1" r="2.5"/><circle cx="727.0" cy="50.5" r="2.5"/><circle cx="727.4" cy="54.3" r="2.5"/><circle cx="702.6" cy="68.6" r="2.5"/><circle cx="695.5" cy="70.5" r="2.5"/><circle cx="714.6" cy="69.6" r="2.5"/><circle cx="717.9" cy="70.5" r="2.5"/><circle cx="665.2" cy="72.1" r="2.5"/><circle cx="665.7" cy="74.5" r="2.5"/><circle cx="666.2" cy="78.8" r="2.5"/><circle cx="666.7" cy="81.2" r="2.5"/><circle cx="673.3" cy="73.1" r="2.5"/><circle cx="677.1" cy="73.1" r="2.5"/><circle cx="676.2" cy="80.7" r="2.5"/><circle cx="679.0" cy="81.2" r="2.5"/><circle cx="681.9" cy="80.7" r="2.5"/><circle cx="685.7" cy="81.2" r="2.5"/><circle cx="688.6" cy="81.7" r="2.5"/><circle cx="678.1" cy="84.0" r="2.5"/><circle cx="683.8" cy="90.7" r="2.5"/><circle cx="687.6" cy="90.7" r="2.5"/><circle cx="648.6" cy="95.5" r="2.5"/><circle cx="651.4" cy="94.5" r="2.5"/><circle cx="654.3" cy="96.4" r="2.5"/><circle cx="649.5" cy="97.9" r="2.5"/><circle cx="661.0" cy="95.5" r="2.5"/><circle cx="662.4" cy="97.4" r="2.5"/><circle cx="640.6" cy="109.8" r="2.5"/><circle cx="639.0" cy="114.4" r="2.5"/><circle cx="642.1" cy="116.0" r="2.5"/><circle cx="639.8" cy="120.6" r="2.5"/><circle cx="642.9" cy="121.4" r="2.5"/><circle cx="665.6" cy="72.0" r="2.5"/><circle cx="666.4" cy="79.7" r="2.5"/><circle cx="673.4" cy="73.5" r="2.5"/><circle cx="676.5" cy="72.7" r="2.5"/><circle cx="676.5" cy="81.3" r="2.5"/><circle cx="679.6" cy="80.5" r="2.5"/><circle cx="682.7" cy="81.3" r="2.5"/><circle cx="686.5" cy="82.0" r="2.5"/><circle cx="691.2" cy="81.3" r="2.5"/><circle cx="695.0" cy="80.5" r="2.5"/><circle cx="684.2" cy="89.8" r="2.5"/><circle cx="688.9" cy="90.6" r="2.5"/><circle cx="698.9" cy="90.6" r="2.5"/><circle cx="647.0" cy="94.4" r="2.5"/><circle cx="650.1" cy="95.2" r="2.5"/><circle cx="653.2" cy="96.0" r="2.5"/><circle cx="660.2" cy="95.2" r="2.5"/><circle cx="662.5" cy="96.7" r="2.5"/><circle cx="639.3" cy="109.9" r="2.5"/><circle cx="642.4" cy="111.5" r="2.5"/><circle cx="640.8" cy="116.1" r="2.5"/><circle cx="643.9" cy="114.6" r="2.5"/><circle cx="637.7" cy="119.2" r="2.5"/><circle cx="640.8" cy="120.8" r="2.5"/><circle cx="691.9" cy="70.4" r="2.5"/><circle cx="695.0" cy="68.9" r="2.5"/><circle cx="691.5" cy="50.9" r="2.5"/><circle cx="691.5" cy="58.7" r="2.5"/><circle cx="699.3" cy="57.9" r="2.5"/><circle cx="703.9" cy="61.0" r="2.5"/><circle cx="708.6" cy="52.5" r="2.5"/><circle cx="710.1" cy="56.3" r="2.5"/><circle cx="713.2" cy="61.0" r="2.5"/><circle cx="717.9" cy="50.9" r="2.5"/><circle cx="718.7" cy="56.3" r="2.5"/><circle cx="721.0" cy="61.0" r="2.5"/><circle cx="727.2" cy="50.9" r="2.5"/><circle cx="727.9" cy="55.6" r="2.5"/><circle cx="730.3" cy="53.2" r="2.5"/><circle cx="734.9" cy="53.2" r="2.5"/><circle cx="736.5" cy="49.4" r="2.5"/><circle cx="739.6" cy="56.3" r="2.5"/><circle cx="742.7" cy="53.2" r="2.5"/><circle cx="744.2" cy="49.4" r="2.5"/><circle cx="743.4" cy="60.2" r="2.5"/><circle cx="747.3" cy="57.9" r="2.5"/><circle cx="749.6" cy="54.0" r="2.5"/><circle cx="753.5" cy="51.7" r="2.5"/><circle cx="754.3" cy="57.1" r="2.5"/><circle cx="694.6" cy="70.3" r="2.5"/><circle cx="700.8" cy="68.7" r="2.5"/><circle cx="705.5" cy="64.1" r="2.5"/><circle cx="714.8" cy="70.3" r="2.5"/><circle cx="717.9" cy="69.5" r="2.5"/><circle cx="690.8" cy="65.6" r="2.5"/><circle cx="694.6" cy="79.6" r="2.5"/><circle cx="699.3" cy="89.6" r="2.5"/><circle cx="691.5" cy="90.4" r="2.5"/><circle cx="700.6" cy="90.1" r="2.5"/><circle cx="736.2" cy="50.0" r="2.5"/><circle cx="738.6" cy="54.8" r="2.5"/><circle cx="742.1" cy="59.5" r="2.5"/><circle cx="744.5" cy="50.6" r="2.5"/><circle cx="746.9" cy="53.6" r="2.5"/><circle cx="750.5" cy="56.0" r="2.5"/><circle cx="754.0" cy="51.8" r="2.5"/><circle cx="754.6" cy="56.0" r="2.5"/><circle cx="755.2" cy="58.3" r="2.5"/><circle cx="749.3" cy="58.9" r="2.5"/><circle cx="745.7" cy="58.3" r="2.5"/><circle cx="639.4" cy="109.4" r="2.5"/><circle cx="643.3" cy="108.1" r="2.5"/><circle cx="640.7" cy="113.3" r="2.5"/><circle cx="644.0" cy="112.7" r="2.5"/><circle cx="639.4" cy="117.3" r="2.5"/><circle cx="642.0" cy="119.2" r="2.5"/><circle cx="638.1" cy="119.2" r="2.5"/><circle cx="640.7" cy="121.2" r="2.5"/></g>
<line x1="590.3" y1="122.3" x2="772.7" y2="71.1" stroke="#f8cc6c" stroke-width="0.9"/>
<line x1="636.7" y1="105.6" x2="754.6" y2="44.0" stroke="#25507a" stroke-width="0.9"/>
<line x1="29.0" y1="363.4" x2="258.2" y2="219.7" stroke="#000" stroke-width="1.7"/>
<line x1="51.3" y1="348.8" x2="235.3" y2="236.1" stroke="#2a5784" stroke-width="1.0"/>
<line x1="94.5" y1="320.4" x2="240.5" y2="234.1" stroke="#48ba97" stroke-width="1.0"/>
<g fill="#2a5784"><circle cx="53.2" cy="351.6" r="2.5"/><circle cx="67.5" cy="338.2" r="2.5"/><circle cx="68.4" cy="340.0" r="2.5"/><circle cx="86.3" cy="323.0" r="2.5"/><circle cx="87.1" cy="325.7" r="2.5"/><circle cx="85.4" cy="324.8" r="2.5"/><circle cx="105.0" cy="313.2" r="2.5"/><circle cx="123.8" cy="301.6" r="2.5"/><circle cx="124.2" cy="300.8" r="2.5"/><circle cx="141.7" cy="292.5" r="2.5"/><circle cx="145.0" cy="293.3" r="2.5"/><circle cx="148.3" cy="291.7" r="2.5"/><circle cx="161.7" cy="279.2" r="2.5"/><circle cx="163.3" cy="283.3" r="2.5"/><circle cx="180.8" cy="266.7" r="2.5"/><circle cx="198.3" cy="255.8" r="2.5"/><circle cx="198.7" cy="256.1" r="2.5"/><circle cx="203.5" cy="257.9" r="2.5"/><circle cx="219.5" cy="235.9" r="2.5"/><circle cx="232.6" cy="234.1" r="2.5"/></g>
<g fill="#48ba97"><circle cx="96.1" cy="327.5" r="2.5"/><circle cx="100.5" cy="315.9" r="2.5"/><circle cx="102.3" cy="317.7" r="2.5"/><circle cx="101.4" cy="318.6" r="2.5"/><circle cx="114.8" cy="306.1" r="2.5"/><circle cx="116.6" cy="304.3" r="2.5"/><circle cx="115.7" cy="307.0" r="2.5"/><circle cx="129.1" cy="297.1" r="2.5"/><circle cx="131.7" cy="296.7" r="2.5"/><circle cx="130.8" cy="299.2" r="2.5"/><circle cx="145.0" cy="287.5" r="2.5"/><circle cx="158.3" cy="280.8" r="2.5"/><circle cx="164.2" cy="280.8" r="2.5"/><circle cx="160.8" cy="282.5" r="2.5"/><circle cx="178.3" cy="270.8" r="2.5"/><circle cx="180.0" cy="273.3" r="2.5"/><circle cx="180.8" cy="275.0" r="2.5"/><circle cx="196.7" cy="260.0" r="2.5"/><circle cx="196.9" cy="260.3" r="2.5"/><circle cx="205.9" cy="252.5" r="2.5"/><circle cx="211.2" cy="252.5" r="2.5"/><circle cx="209.4" cy="238.2" r="2.5"/><circle cx="239.8" cy="236.5" r="2.5"/></g>
<line x1="298.4" y1="363.4" x2="525.3" y2="219.6" stroke="#000" stroke-width="1.7"/>
<line x1="336.2" y1="338.0" x2="525.3" y2="226.6" stroke="#48ba97" stroke-width="1.0"/>
<g fill="#ec557a"><circle cx="301.9" cy="358.0" r="2.5"/><circle cx="304.2" cy="355.7" r="2.5"/><circle cx="307.3" cy="355.0" r="2.5"/><circle cx="310.4" cy="355.0" r="2.5"/><circle cx="312.7" cy="355.4" r="2.5"/><circle cx="303.4" cy="358.8" r="2.5"/><circle cx="306.5" cy="358.0" r="2.5"/><circle cx="309.6" cy="357.3" r="2.5"/><circle cx="301.1" cy="361.1" r="2.5"/><circle cx="300.5" cy="362.0" r="2.5"/></g>
<g fill="#f8cc6c"><circle cx="329.0" cy="341.0" r="2.5"/><circle cx="333.0" cy="338.5" r="2.5"/><circle cx="337.0" cy="336.0" r="2.5"/><circle cx="341.0" cy="333.5" r="2.5"/><circle cx="345.0" cy="331.0" r="2.5"/><circle cx="349.0" cy="329.0" r="2.5"/><circle cx="352.0" cy="330.0" r="2.5"/><circle cx="346.0" cy="334.0" r="2.5"/><circle cx="339.0" cy="337.5" r="2.5"/><circle cx="335.0" cy="339.5" r="2.5"/><circle cx="353.5" cy="328.5" r="2.5"/><circle cx="326.6" cy="343.3" r="2.5"/><circle cx="330.5" cy="339.5" r="2.5"/><circle cx="335.2" cy="337.9" r="2.5"/><circle cx="341.3" cy="334.1" r="2.5"/><circle cx="344.4" cy="333.3" r="2.5"/><circle cx="347.5" cy="331.7" r="2.5"/><circle cx="350.6" cy="333.3" r="2.5"/><circle cx="349.1" cy="326.3" r="2.5"/><circle cx="355.3" cy="322.4" r="2.5"/><circle cx="361.5" cy="324.8" r="2.5"/><circle cx="366.1" cy="323.2" r="2.5"/><circle cx="373.9" cy="310.8" r="2.5"/><circle cx="370.0" cy="316.0" r="2.5"/><circle cx="376.0" cy="318.0" r="2.5"/></g>
<g fill="#48ba97"><circle cx="357.6" cy="333.3" r="2.5"/><circle cx="361.5" cy="320.1" r="2.5"/><circle cx="370.8" cy="323.2" r="2.5"/><circle cx="376.2" cy="307.7" r="2.5"/><circle cx="416.1" cy="282.9" r="2.5"/><circle cx="419.2" cy="281.3" r="2.5"/><circle cx="430.0" cy="276.7" r="2.5"/><circle cx="433.1" cy="275.9" r="2.5"/><circle cx="439.3" cy="275.9" r="2.5"/><circle cx="442.4" cy="275.1" r="2.5"/><circle cx="401.4" cy="296.0" r="2.5"/><circle cx="393.6" cy="300.7" r="2.5"/><circle cx="394.4" cy="306.9" r="2.5"/><circle cx="378.9" cy="305.3" r="2.5"/><circle cx="382.0" cy="306.1" r="2.5"/><circle cx="376.6" cy="308.4" r="2.5"/><circle cx="380.5" cy="308.4" r="2.5"/><circle cx="494.8" cy="227.4" r="2.5"/><circle cx="497.4" cy="245.4" r="2.5"/><circle cx="516.2" cy="242.0" r="2.5"/><circle cx="454.6" cy="259.1" r="2.5"/><circle cx="453.7" cy="265.1" r="2.5"/><circle cx="457.1" cy="265.9" r="2.5"/><circle cx="460.5" cy="269.4" r="2.5"/><circle cx="466.5" cy="265.9" r="2.5"/><circle cx="467.4" cy="270.7" r="2.5"/><circle cx="441.7" cy="276.2" r="2.5"/><circle cx="443.4" cy="276.2" r="2.5"/></g>
<g fill="#2a5784"><circle cx="331.3" cy="331.0" r="2.5"/><circle cx="330.5" cy="333.3" r="2.5"/><circle cx="333.6" cy="334.8" r="2.5"/><circle cx="332.8" cy="332.5" r="2.5"/><circle cx="338.2" cy="332.5" r="2.5"/><circle cx="342.9" cy="327.9" r="2.5"/><circle cx="343.7" cy="341.5" r="2.5"/><circle cx="351.4" cy="327.1" r="2.5"/><circle cx="356.0" cy="325.5" r="2.5"/><circle cx="356.8" cy="328.6" r="2.5"/><circle cx="363.0" cy="312.4" r="2.5"/><circle cx="370.0" cy="312.4" r="2.5"/><circle cx="364.6" cy="318.6" r="2.5"/><circle cx="370.0" cy="320.1" r="2.5"/><circle cx="373.9" cy="320.1" r="2.5"/><circle cx="376.2" cy="313.9" r="2.5"/><circle cx="409.1" cy="300.7" r="2.5"/><circle cx="410.7" cy="303.0" r="2.5"/><circle cx="413.0" cy="310.0" r="2.5"/><circle cx="416.1" cy="313.0" r="2.5"/><circle cx="420.0" cy="310.7" r="2.5"/><circle cx="431.6" cy="308.4" r="2.5"/><circle cx="387.4" cy="306.1" r="2.5"/><circle cx="386.7" cy="310.7" r="2.5"/><circle cx="389.8" cy="312.3" r="2.5"/><circle cx="388.2" cy="314.6" r="2.5"/><circle cx="382.0" cy="313.0" r="2.5"/><circle cx="377.4" cy="313.8" r="2.5"/><circle cx="370.4" cy="312.3" r="2.5"/><circle cx="372.0" cy="317.7" r="2.5"/><circle cx="365.0" cy="318.5" r="2.5"/><circle cx="374.3" cy="318.5" r="2.5"/></g>
<line x1="330.5" y1="332.0" x2="432.3" y2="299.9" stroke="#2a5784" stroke-width="0.9"/>
<line x1="576.4" y1="363.3" x2="790.6" y2="219.6" stroke="#000" stroke-width="1.9"/>
<line x1="661.7" y1="264.7" x2="741.6" y2="303.8" stroke="#2a5784" stroke-width="0.9"/>
<line x1="653.2" y1="287.9" x2="705.0" y2="277.1" stroke="#48ba97" stroke-width="0.9"/>
<g fill="#f2c230"><circle cx="619.4" cy="234.3" r="2.5"/><circle cx="621.7" cy="242.3" r="2.5"/><circle cx="649.6" cy="236.1" r="2.5"/><circle cx="646.5" cy="247.4" r="2.5"/><circle cx="649.6" cy="247.4" r="2.5"/><circle cx="636.1" cy="280.0" r="2.5"/><circle cx="636.1" cy="283.6" r="2.5"/><circle cx="634.3" cy="292.5" r="2.5"/><circle cx="643.2" cy="294.3" r="2.5"/><circle cx="649.8" cy="281.2" r="2.5"/><circle cx="655.7" cy="283.6" r="2.5"/><circle cx="641.4" cy="307.9" r="2.5"/><circle cx="667.9" cy="281.0" r="2.5"/><circle cx="674.1" cy="286.4" r="2.5"/><circle cx="680.2" cy="284.1" r="2.5"/><circle cx="661.6" cy="302.8" r="2.5"/><circle cx="655.7" cy="316.7" r="2.5"/><circle cx="649.2" cy="331.1" r="2.5"/><circle cx="661.6" cy="326.8" r="2.5"/><circle cx="661.6" cy="331.4" r="2.5"/><circle cx="655.4" cy="338.9" r="2.5"/><circle cx="673.9" cy="329.9" r="2.5"/><circle cx="674.1" cy="302.3" r="2.5"/><circle cx="680.2" cy="325.5" r="2.5"/><circle cx="680.2" cy="328.6" r="2.5"/><circle cx="684.9" cy="327.1" r="2.5"/><circle cx="680.2" cy="334.1" r="2.5"/><circle cx="723.3" cy="322.2" r="2.5"/><circle cx="735.5" cy="322.2" r="2.5"/></g>
<g fill="#2a5784"><circle cx="655.0" cy="251.3" r="2.5"/><circle cx="655.8" cy="260.6" r="2.5"/><circle cx="660.4" cy="262.2" r="2.5"/><circle cx="667.4" cy="260.6" r="2.5"/><circle cx="674.0" cy="267.8" r="2.5"/><circle cx="675.6" cy="270.1" r="2.5"/><circle cx="677.9" cy="272.4" r="2.5"/><circle cx="686.4" cy="270.1" r="2.5"/><circle cx="689.5" cy="271.7" r="2.5"/><circle cx="669.4" cy="276.3" r="2.5"/><circle cx="689.5" cy="285.6" r="2.5"/><circle cx="693.4" cy="287.2" r="2.5"/><circle cx="697.3" cy="284.8" r="2.5"/><circle cx="700.4" cy="283.3" r="2.5"/><circle cx="701.9" cy="286.4" r="2.5"/><circle cx="707.3" cy="285.6" r="2.5"/><circle cx="712.0" cy="286.4" r="2.5"/><circle cx="708.9" cy="291.0" r="2.5"/><circle cx="710.4" cy="296.4" r="2.5"/><circle cx="692.6" cy="295.7" r="2.5"/><circle cx="698.8" cy="293.3" r="2.5"/><circle cx="718.2" cy="291.0" r="2.5"/><circle cx="711.8" cy="286.1" r="2.5"/><circle cx="710.2" cy="291.4" r="2.5"/><circle cx="710.7" cy="296.3" r="2.5"/><circle cx="722.0" cy="285.0" r="2.5"/><circle cx="721.4" cy="290.9" r="2.5"/><circle cx="728.4" cy="289.8" r="2.5"/><circle cx="741.8" cy="298.9" r="2.5"/><circle cx="701.1" cy="283.9" r="2.5"/></g>
<g fill="#48ba97"><circle cx="680.0" cy="268.0" r="2.5"/><circle cx="683.0" cy="269.0" r="2.5"/><circle cx="686.0" cy="271.0" r="2.5"/><circle cx="689.0" cy="274.0" r="2.5"/><circle cx="692.0" cy="276.0" r="2.5"/><circle cx="683.0" cy="275.0" r="2.5"/><circle cx="686.0" cy="278.0" r="2.5"/><circle cx="680.0" cy="273.5" r="2.5"/><circle cx="677.5" cy="270.5" r="2.5"/><circle cx="654.2" cy="280.0" r="2.5"/><circle cx="660.4" cy="279.2" r="2.5"/><circle cx="666.6" cy="275.3" r="2.5"/><circle cx="668.2" cy="279.2" r="2.5"/><circle cx="679.5" cy="270.1" r="2.5"/><circle cx="681.8" cy="273.2" r="2.5"/><circle cx="685.7" cy="272.4" r="2.5"/><circle cx="688.0" cy="276.3" r="2.5"/><circle cx="684.9" cy="277.9" r="2.5"/><circle cx="687.2" cy="279.4" r="2.5"/><circle cx="690.3" cy="280.2" r="2.5"/><circle cx="691.1" cy="273.2" r="2.5"/><circle cx="694.2" cy="281.7" r="2.5"/><circle cx="696.5" cy="282.5" r="2.5"/><circle cx="698.8" cy="283.3" r="2.5"/><circle cx="705.0" cy="277.6" r="2.5"/><circle cx="654.7" cy="279.4" r="2.5"/><circle cx="660.1" cy="277.9" r="2.5"/><circle cx="667.1" cy="275.5" r="2.5"/><circle cx="668.6" cy="284.8" r="2.5"/><circle cx="653.9" cy="293.3" r="2.5"/><circle cx="656.3" cy="296.4" r="2.5"/><circle cx="661.7" cy="293.3" r="2.5"/><circle cx="695.7" cy="301.9" r="2.5"/><circle cx="691.1" cy="308.5" r="2.5"/><circle cx="653.2" cy="308.8" r="2.5"/><circle cx="704.8" cy="277.0" r="2.5"/><circle cx="701.1" cy="281.8" r="2.5"/><circle cx="653.0" cy="309.0" r="2.5"/></g>
<line x1="619.2" y1="267.8" x2="735.5" y2="351.0" stroke="#f2c230" stroke-width="0.9"/>
<circle cx="211.1" cy="126.0" r="2.7" fill="#2a5784"/>
<text x="223.6" y="129.0" class="lg">Ti</text>
<circle cx="211.1" cy="137.3" r="2.7" fill="#48ba97"/>
<text x="223.6" y="140.3" class="lg">Fe</text>
<circle cx="478.3" cy="104.3" r="2.7" fill="#2a5784"/>
<text x="490.8" y="107.3" class="lg">V</text>
<circle cx="478.3" cy="115.6" r="2.7" fill="#48ba97"/>
<text x="490.8" y="118.6" class="lg">Mn</text>
<circle cx="478.3" cy="126.9" r="2.7" fill="#f8cc6c"/>
<text x="490.8" y="129.9" class="lg">Co</text>
<circle cx="478.3" cy="138.2" r="2.7" fill="#ec557a"/>
<text x="490.8" y="141.2" class="lg">Cu</text>
<circle cx="746.3" cy="118.7" r="2.7" fill="#2a5784"/>
<text x="758.8" y="121.7" class="lg">Zn</text>
<circle cx="746.3" cy="130.0" r="2.7" fill="#48ba97"/>
<text x="758.8" y="133.0" class="lg">Zr</text>
<circle cx="746.3" cy="141.3" r="2.7" fill="#f8cc6c"/>
<text x="758.8" y="144.3" class="lg">Pb</text>
<circle cx="211.1" cy="333.0" r="2.7" fill="#2a5784"/>
<text x="223.6" y="336.0" class="lg">Ti</text>
<circle cx="211.1" cy="344.3" r="2.7" fill="#48ba97"/>
<text x="223.6" y="347.3" class="lg">Fe</text>
<circle cx="478.3" cy="311.3" r="2.7" fill="#2a5784"/>
<text x="490.8" y="314.3" class="lg">V</text>
<circle cx="478.3" cy="322.6" r="2.7" fill="#48ba97"/>
<text x="490.8" y="325.6" class="lg">Mn</text>
<circle cx="478.3" cy="333.9" r="2.7" fill="#f8cc6c"/>
<text x="490.8" y="336.9" class="lg">Co</text>
<circle cx="478.3" cy="345.2" r="2.7" fill="#ec557a"/>
<text x="490.8" y="348.2" class="lg">Cu</text>
<circle cx="751.1" cy="325.4" r="2.7" fill="#2a5784"/>
<text x="763.6" y="328.4" class="lg">Zn</text>
<circle cx="751.1" cy="336.7" r="2.7" fill="#48ba97"/>
<text x="763.6" y="339.7" class="lg">Zr</text>
<circle cx="751.1" cy="348.0" r="2.7" fill="#f2c230"/>
<text x="763.6" y="351.0" class="lg">Pb</text>
</svg>
<div class="cap" style="left:336.6px;top:186.2px;letter-spacing:0.9px"><span class="l">(a)</span></div>
<div class="cap" style="left:369px;top:187.2px"><span class="c">校准集表现</span></div>
<div class="cap" style="left:341px;top:393.6px;letter-spacing:0.7px"><span class="l">(b)</span></div>
<div class="cap" style="left:365.3px;top:395.2px"><span class="c">预测集表现</span></div>
</body></html>
